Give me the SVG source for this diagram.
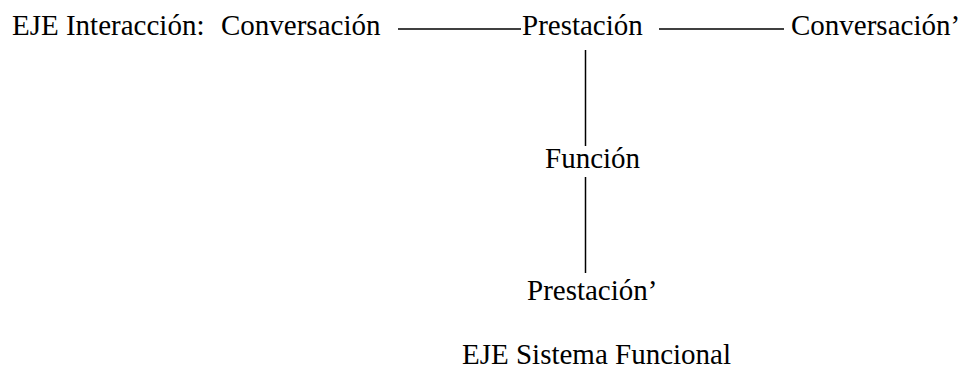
<svg xmlns="http://www.w3.org/2000/svg" width="959" height="372" viewBox="0 0 959 372">
<style>
text{font-family:"Liberation Serif","Times New Roman",serif;font-size:29px;fill:#000}
.c line{stroke:#000;stroke-width:1.5}
</style>
<rect width="959" height="372" fill="#fff"/>
<g class="c" id="connectors">
<line x1="398" y1="29" x2="521" y2="29"/>
<line x1="659" y1="29" x2="784" y2="29"/>
<line x1="585.5" y1="50" x2="585.5" y2="146"/>
<line x1="585.5" y1="177" x2="585.5" y2="273"/>
</g>
<g id="label-eje-interaccion"><text x="12" y="35">EJE Interacción:</text></g>
<g id="node-conversacion"><text x="221" y="35">Conversación</text></g>
<g id="node-prestacion"><text x="522" y="35">Prestación</text></g>
<g id="node-conversacion2"><text x="791" y="35">Conversación’</text></g>
<g id="node-funcion"><text x="545" y="168">Función</text></g>
<g id="node-prestacion2"><text x="527" y="300">Prestación’</text></g>
<g id="label-eje-sistema"><text x="462" y="364">EJE Sistema Funcional</text></g>
</svg>
